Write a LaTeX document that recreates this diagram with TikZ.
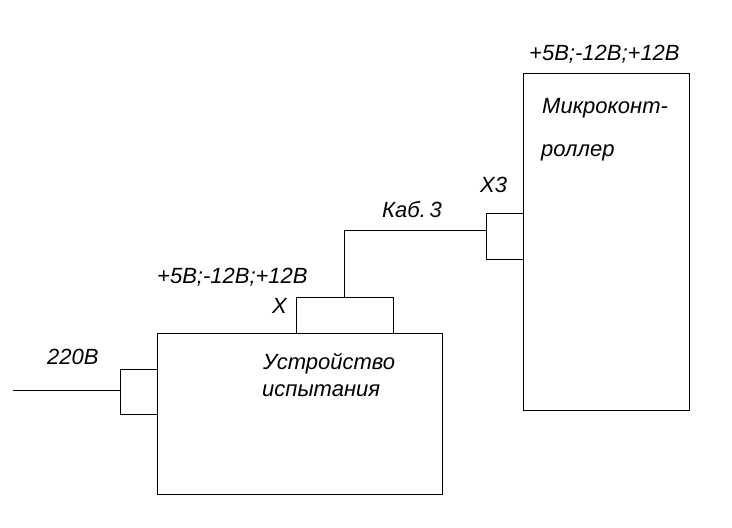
\documentclass[tikz,border=0pt]{standalone}
\usepackage{fontspec}
\setmainfont{Liberation Sans}
\begin{document}
\begin{tikzpicture}[x=1pt,y=-1pt,
  blk/.style={draw,line width=1pt},
  wire/.style={draw,line width=1pt},
  lbl/.style={inner sep=0pt,anchor=base west,font=\fontsize{22}{26}\selectfont\itshape}]
\useasboundingbox (0,0) rectangle (732,528);
% blocks
\draw[blk] (157,333) rectangle (442,494);
\draw[blk] (523,73) rectangle (689,410);
% connectors
\draw[blk] (296,333) -- (296,297) -- (393,297) -- (393,333);
\draw[blk] (157,369) -- (120,369) -- (120,414) -- (157,414);
\draw[blk] (523,213) -- (486,213) -- (486,259) -- (523,259);
% named points
\coordinate (pin) at (13,390);
\coordinate (lc) at (120,390);
\coordinate (tc) at (344,297);
\coordinate (bend) at (344,230);
\coordinate (rc) at (486,230);
\draw[wire] (pin) -- (lc);
\draw[wire] (tc) -- (bend) -- (rc);
% labels
\node[lbl] (t1) at (529,60) {+5В;-12В;+12В};
\node[lbl] (m1) at (542,113) {Микроконт-};
\node[lbl] (m2) at (541,156) {роллер};
\node[lbl] (x3) at (480,192) {Х3};
\node[lbl] (kab) at (382,217) {Каб.\,3};
\node[lbl] (t2) at (157,283) {+5В;-12В;+12В};
\node[lbl] (x) at (272,313) {Х};
\node[lbl] (v220) at (47,364) {220В};
\node[lbl] (u1) at (263,369) {Устройство};
\node[lbl] (u2) at (262,396) {испытания};
\end{tikzpicture}
\end{document}
